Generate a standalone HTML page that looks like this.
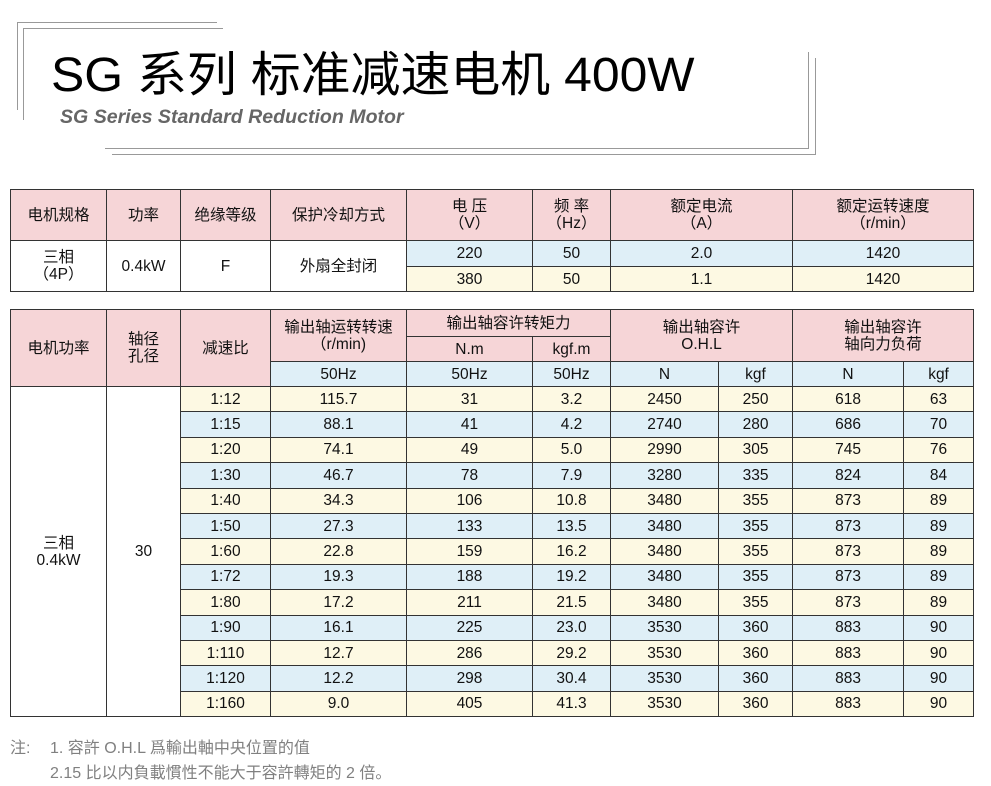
<!DOCTYPE html>
<html><head><meta charset="utf-8"><style>
body{margin:0;width:991px;height:786px;background:#fff;position:relative;overflow:hidden;font-family:"Liberation Sans","Noto Sans CJK SC",sans-serif;color:#111}
.l{position:absolute;background:#999}
.t{position:absolute;left:51px;top:35px;font-size:48px;color:#000;white-space:nowrap;transform:scaleX(1.04);transform-origin:left top}
.s{position:absolute;left:60px;top:107px;font-size:19px;font-style:italic;font-weight:bold;color:#666;white-space:nowrap;transform:scaleX(1.03);transform-origin:left top}
table{position:absolute;left:10px;border-collapse:collapse;table-layout:fixed;font-size:15.5px}
td{border:1px solid #333;text-align:center;padding:0;line-height:17px;overflow:hidden}
.p{background:#f6d5d7}.b{background:#dfeff7}.y{background:#fdf9e3}.w{background:#fff}
.n{position:absolute;left:10px;font-size:16px;color:#808080;white-space:nowrap}
</style></head><body>
<div class="l" style="left:17px;top:22px;width:1px;height:88px"></div>
<div class="l" style="left:23px;top:28px;width:1px;height:92px"></div>
<div class="l" style="left:17px;top:22px;width:200px;height:1px"></div>
<div class="l" style="left:23px;top:28px;width:200px;height:1px"></div>
<div class="l" style="left:808px;top:52px;width:1px;height:96px"></div>
<div class="l" style="left:815px;top:58px;width:1px;height:96px"></div>
<div class="l" style="left:105px;top:148px;width:704px;height:1px"></div>
<div class="l" style="left:112px;top:154px;width:704px;height:1px"></div>
<div class="t">SG 系列 标准减速电机 400W</div>
<div class="s">SG Series Standard Reduction Motor</div>

<table style="top:189px;width:963px">
<colgroup><col style="width:96px"><col style="width:74px"><col style="width:90px"><col style="width:136px"><col style="width:126px"><col style="width:78px"><col style="width:182px"><col style="width:181px"></colgroup>
<tr style="height:51px"><td class="p">电机规格</td><td class="p">功率</td><td class="p">绝缘等级</td><td class="p">保护冷却方式</td><td class="p">电 压<br>（V）</td><td class="p">频 率<br>（Hz）</td><td class="p">额定电流<br>（A）</td><td class="p">额定运转速度<br>（r/min）</td></tr>
<tr style="height:26px"><td rowspan="2" class="w">三相<br>（4P）</td><td rowspan="2" class="w">0.4kW</td><td rowspan="2" class="w">F</td><td rowspan="2" class="w">外扇全封闭</td><td class="b">220</td><td class="b">50</td><td class="b">2.0</td><td class="b">1420</td></tr>
<tr style="height:25px"><td class="y">380</td><td class="y">50</td><td class="y">1.1</td><td class="y">1420</td></tr>
</table>

<table style="top:309px;width:963px">
<colgroup><col style="width:96px"><col style="width:74px"><col style="width:90px"><col style="width:136px"><col style="width:126px"><col style="width:78px"><col style="width:108px"><col style="width:74px"><col style="width:111px"><col style="width:70px"></colgroup>
<tr style="height:27px"><td class="p" rowspan="3">电机功率</td><td class="p" rowspan="3">轴径<br>孔径</td><td class="p" rowspan="3">减速比</td><td class="p" rowspan="2">输出轴运转转速<br>（r/min)</td><td class="p" colspan="2">输出轴容许转矩力</td><td class="p" colspan="2" rowspan="2">输出轴容许<br>O.H.L</td><td class="p" colspan="2" rowspan="2">输出轴容许<br>轴向力负荷</td></tr>
<tr style="height:25px"><td class="p">N.m</td><td class="p">kgf.m</td></tr>
<tr style="height:25px"><td class="b">50Hz</td><td class="b">50Hz</td><td class="b">50Hz</td><td class="b">N</td><td class="b">kgf</td><td class="b">N</td><td class="b">kgf</td></tr>
<tr style="height:25.4px"><td rowspan="13" class="w">三相<br>0.4kW</td><td rowspan="13" class="w">30</td><td class="y">1:12</td><td class="y">115.7</td><td class="y">31</td><td class="y">3.2</td><td class="y">2450</td><td class="y">250</td><td class="y">618</td><td class="y">63</td></tr>
<tr style="height:25.4px"><td class="b">1:15</td><td class="b">88.1</td><td class="b">41</td><td class="b">4.2</td><td class="b">2740</td><td class="b">280</td><td class="b">686</td><td class="b">70</td></tr>
<tr style="height:25.4px"><td class="y">1:20</td><td class="y">74.1</td><td class="y">49</td><td class="y">5.0</td><td class="y">2990</td><td class="y">305</td><td class="y">745</td><td class="y">76</td></tr>
<tr style="height:25.4px"><td class="b">1:30</td><td class="b">46.7</td><td class="b">78</td><td class="b">7.9</td><td class="b">3280</td><td class="b">335</td><td class="b">824</td><td class="b">84</td></tr>
<tr style="height:25.4px"><td class="y">1:40</td><td class="y">34.3</td><td class="y">106</td><td class="y">10.8</td><td class="y">3480</td><td class="y">355</td><td class="y">873</td><td class="y">89</td></tr>
<tr style="height:25.4px"><td class="b">1:50</td><td class="b">27.3</td><td class="b">133</td><td class="b">13.5</td><td class="b">3480</td><td class="b">355</td><td class="b">873</td><td class="b">89</td></tr>
<tr style="height:25.4px"><td class="y">1:60</td><td class="y">22.8</td><td class="y">159</td><td class="y">16.2</td><td class="y">3480</td><td class="y">355</td><td class="y">873</td><td class="y">89</td></tr>
<tr style="height:25.4px"><td class="b">1:72</td><td class="b">19.3</td><td class="b">188</td><td class="b">19.2</td><td class="b">3480</td><td class="b">355</td><td class="b">873</td><td class="b">89</td></tr>
<tr style="height:25.4px"><td class="y">1:80</td><td class="y">17.2</td><td class="y">211</td><td class="y">21.5</td><td class="y">3480</td><td class="y">355</td><td class="y">873</td><td class="y">89</td></tr>
<tr style="height:25.4px"><td class="b">1:90</td><td class="b">16.1</td><td class="b">225</td><td class="b">23.0</td><td class="b">3530</td><td class="b">360</td><td class="b">883</td><td class="b">90</td></tr>
<tr style="height:25.4px"><td class="y">1:110</td><td class="y">12.7</td><td class="y">286</td><td class="y">29.2</td><td class="y">3530</td><td class="y">360</td><td class="y">883</td><td class="y">90</td></tr>
<tr style="height:25.4px"><td class="b">1:120</td><td class="b">12.2</td><td class="b">298</td><td class="b">30.4</td><td class="b">3530</td><td class="b">360</td><td class="b">883</td><td class="b">90</td></tr>
<tr style="height:25.4px"><td class="y">1:160</td><td class="y">9.0</td><td class="y">405</td><td class="y">41.3</td><td class="y">3530</td><td class="y">360</td><td class="y">883</td><td class="y">90</td></tr>
</table>

<div class="n" style="top:734px">注:</div>
<div class="n" style="top:734px;left:50px">1. 容許 O.H.L 爲輸出軸中央位置的值</div>
<div class="n" style="top:759px;left:50px">2.15 比以内負載慣性不能大于容許轉矩的 2 倍。</div>
</body></html>
